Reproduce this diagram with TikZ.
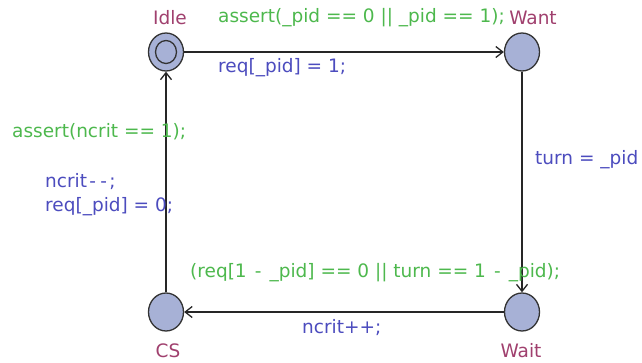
\documentclass[tikz,border=0pt]{standalone}
\usepackage{fontspec}
\setmainfont{DejaVu Sans}
\usetikzlibrary{arrows.meta,shapes.geometric}
\definecolor{locfill}{HTML}{A7B1D6}
\definecolor{gcol}{HTML}{4DB84D}
\definecolor{bcol}{HTML}{4C4CBE}
\definecolor{ncol}{HTML}{A0406E}
\newcommand{\hyw}{\makebox[0.6em]{-}}
\tikzset{
  loc/.style={draw=black!80, line width=1.3pt, fill=locfill, locshape},
  locshape/.style={ellipse, minimum width=35pt, minimum height=38pt, inner sep=0pt},
  edge/.style={draw=black!85, line width=1.4pt, -{Straight Barb[length=7pt,width=11pt,line width=1.3pt]}},
  gtxt/.style={text=gcol, font=\fontsize{18.5}{22}\selectfont, inner sep=0pt, anchor=west},
  btxt/.style={text=bcol, font=\fontsize{18.5}{24}\selectfont, inner sep=0pt, anchor=west},
  ntxt/.style={text=ncol, font=\fontsize{18.5}{22}\selectfont, inner sep=0pt},
}
\begin{document}
\begin{tikzpicture}[x=1pt,y=-1pt]
\useasboundingbox (0,0) rectangle (642,362);
\node[loc] (idle) at (166,52) {};
\node[ellipse, draw=black!80, line width=1.3pt, minimum width=21pt, minimum height=23pt, inner sep=0pt] (idlein) at (166,52) {};
\node[loc] (want) at (522,52) {};
\node[loc] (wait) at (522,312) {};
\node[loc] (cs) at (166,312) {};
\node[ntxt] (lidle) at (170,18) {Idle};
\node[ntxt] (lwant) at (533,18) {Want};
\node[ntxt] (lwait) at (521,351) {Wait};
\node[ntxt] (lcs) at (168,351) {CS};
\draw[edge] (idle) -- (want);
\draw[edge] (want) -- (wait);
\draw[edge] (wait) -- (cs);
\draw[edge] (cs) -- (idle);
\node[gtxt] (g1) at (218,18) {assert(\_pid == 0 || \_pid == 1);};
\node[btxt] (a1) at (218,68) {req[\_pid] = 1;};
\node[btxt] (a2) at (535,160) {turn = \_pid};
\node[gtxt] (g3) at (190,273) {(req[1 \hyw{} \_pid] == 0 || turn == 1 \hyw{} \_pid);};
\node[btxt] (a3) at (302,328) {ncrit++;};
\node[gtxt] (g4) at (12,132) {assert(ncrit == 1);};
\node[btxt, align=left] (a4) at (45,195) {ncrit\hyw\hyw;\\req[\_pid] = 0;};
\end{tikzpicture}
\end{document}
